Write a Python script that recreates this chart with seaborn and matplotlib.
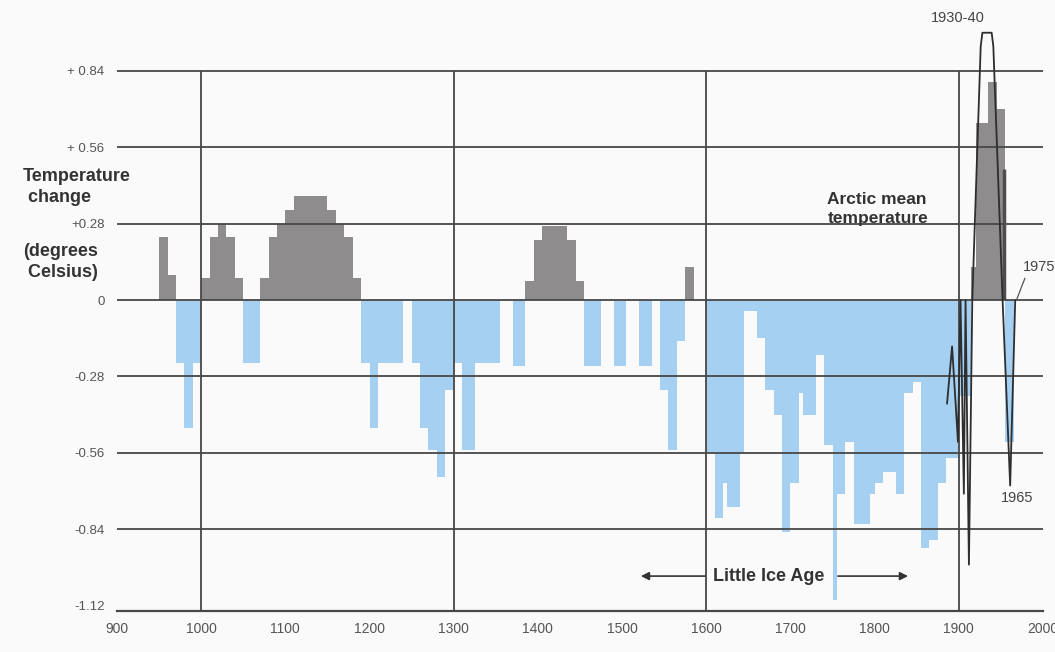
import numpy as np
import pandas as pd
import matplotlib
matplotlib.use("Agg")
import matplotlib.pyplot as plt
import seaborn as sns

# temperature change (deg C), one value per 5-year bin, bin start years below
t_0900s = [0.23, 0.23, 0.09, 0.09, -0.23, -0.23, -0.47, -0.47, -0.23, -0.23]  # 950-995
t_1000s = [0.08, 0.08, 0.23, 0.23, 0.28, 0.28, 0.23, 0.23, 0.08, 0.08,
           -0.23, -0.23, -0.23, -0.23, 0.08, 0.08, 0.23, 0.23, 0.28, 0.28]
t_1100s = [0.33, 0.33, 0.38, 0.38, 0.38, 0.38, 0.38, 0.38, 0.38, 0.38,
           0.33, 0.33, 0.28, 0.28, 0.23, 0.23, 0.08, 0.08, -0.23, -0.23]
t_1200s = [-0.47, -0.47, -0.23, -0.23, -0.23, -0.23, -0.23, -0.23, 0.0, 0.0,
           -0.23, -0.23, -0.47, -0.47, -0.55, -0.55, -0.65, -0.65, -0.33, -0.33]
t_1300s = [-0.23, -0.23, -0.55, -0.55, -0.55, -0.23, -0.23, -0.23, -0.23, -0.23,
           -0.23, 0.0, 0.0, 0.0, -0.24, -0.24, -0.24, 0.07, 0.07, 0.22]
t_1400s = [0.22, 0.27, 0.27, 0.27, 0.27, 0.27, 0.27, 0.22, 0.22, 0.07,
           0.07, -0.24, -0.24, -0.24, -0.24, 0.0, 0.0, 0.0, -0.24, -0.24]
t_1500s = [-0.24, 0.0, 0.0, 0.0, -0.24, -0.24, -0.24, 0.0, 0.0, -0.33,
           -0.33, -0.55, -0.55, -0.15, -0.15, 0.12, 0.12, 0.0, 0.0, 0.0]
t_1600s = [-0.56, -0.56, -0.80, -0.80, -0.67, -0.76, -0.76, -0.76, -0.56, -0.04,
           -0.04, -0.04, -0.14, -0.14, -0.33, -0.33, -0.42, -0.42, -0.85, -0.85]
t_1700s = [-0.67, -0.67, -0.34, -0.42, -0.42, -0.42, -0.20, -0.20, -0.53, -0.53,
           -1.10, -0.71, -0.71, -0.52, -0.52, -0.82, -0.82, -0.82, -0.82, -0.71]
t_1800s = [-0.67, -0.67, -0.63, -0.63, -0.63, -0.71, -0.71, -0.34, -0.34, -0.30,
           -0.30, -0.91, -0.91, -0.88, -0.88, -0.67, -0.67, -0.58, -0.58, -0.58]
t_1900s = [-0.35, -0.35, -0.35, 0.12, 0.65, 0.65, 0.65, 0.80, 0.80, 0.70,
           0.70, -0.52, -0.52, 0.0]  # 1900-1965

# Arctic mean temperature curve (hand drawn in the original)
curve_year = [1886, 1892, 1899, 1902, 1906, 1908, 1912, 1916, 1926, 1928, 1939, 1941, 1952, 1961, 1967]
curve_temp = [-0.38, -0.17, -0.52, 0.0, -0.71, 0.0, -0.97, 0.0, 0.93, 0.98, 0.98, 0.93, 0.0, -0.68, 0.0]
dark_year = [1954]
dark_temp = [0.48]

y_ticks = [0.84, 0.56, 0.28, 0, -0.28, -0.56, -0.84, -1.12]
y_labels = ['+ 0.84', '+ 0.56', '+0.28', '0', '-0.28', '-0.56', '-0.84', '-1.12']
x_ticks = list(range(900, 2001, 100))
v_lines = [1000, 1300, 1600, 1900]

temps = t_0900s + t_1000s + t_1100s + t_1200s + t_1300s + t_1400s + t_1500s + t_1600s + t_1700s + t_1800s + t_1900s
starts = np.arange(950, 950 + 5 * len(temps), 5)
df = pd.DataFrame({'year': starts + 2.5, 'temp': temps})
df['sign'] = np.where(df['temp'] > 0, 'warm', 'cold')

sns.set_style('white')
plt.rcParams['font.family'] = ['Liberation Sans', 'DejaVu Sans']

bg = '#fafafa'
line_c = '#474747'
fig = plt.figure(figsize=(10.55, 6.52), dpi=100, facecolor=bg)
ax = fig.add_axes([117 / 1055, 41 / 652, 926 / 1055, 611 / 652], facecolor=bg)

sns.barplot(data=df, x='year', y='temp', hue='sign', palette={'warm': '#8e8c8c', 'cold': '#a6d0f2'},
            native_scale=True, dodge=False, width=1.0, errorbar=None, linewidth=0,
            saturation=1, legend=False, ax=ax, zorder=2)

# grid lines drawn over the bars like in the original
ax.hlines([t for t in y_ticks if t > -1.0], 900, 2000, color=line_c, lw=1.3, zorder=3)
ax.vlines(v_lines, -1.14, 0.84, color=line_c, lw=1.3, zorder=3)

ax.vlines(dark_year, 0, dark_temp, color='#4d4d4d', lw=2.5, zorder=4)
sns.lineplot(x=curve_year, y=curve_temp, sort=False, estimator=None, color='#2e2e2e', lw=1.3, ax=ax, zorder=5)
ax.plot([1968.5, 1978.5], [0.0, 0.08], color='#555555', lw=0.9, zorder=5)

ax.set_xlim(900, 2000)
ax.set_ylim(-1.14, 1.10)
ax.set_xlabel('')
ax.set_ylabel('')
ax.set_xticks(x_ticks, [str(x) for x in x_ticks])
ax.set_yticks(y_ticks, y_labels)
ax.tick_params(axis='y', length=0, pad=9, labelsize=9.5, labelcolor='#555555')
ax.tick_params(axis='x', direction='in', length=5, width=1.2, color=line_c, pad=8,
               labelsize=10, labelcolor='#555555')
for s in ['top', 'right', 'left']:
    ax.spines[s].set_visible(False)
ax.spines['bottom'].set_color(line_c)
ax.spines['bottom'].set_linewidth(1.6)

# annotations
ax.text(1899, 1.035, '1930-40', ha='center', va='center', fontsize=10.5, color='#444444')
ax.text(1976, 0.12, '1975', ha='left', va='center', fontsize=10.5, color='#444444', clip_on=False)
ax.text(1969, -0.727, '1965', ha='center', va='center', fontsize=10.5, color='#444444')
ax.text(1744, 0.333, 'Arctic mean\ntemperature', ha='left', va='center', fontsize=12.5,
        fontweight='bold', color='#333333', linespacing=1.35)

ax.text(1674, -1.012, 'Little Ice Age', ha='center', va='center', fontsize=13,
        fontweight='bold', color='#333333', zorder=6)
arrow = dict(arrowstyle='-|>', color='#333333', lw=1.2, mutation_scale=12)
ax.annotate('', xy=(1519, -1.012), xytext=(1602, -1.012), arrowprops=arrow)
ax.annotate('', xy=(1843, -1.012), xytext=(1753, -1.012), arrowprops=arrow)

fig.text(23 / 1055, 1 - 187 / 652, 'Temperature\n change', ha='left', va='center', fontsize=13,
         fontweight='bold', color='#333333', linespacing=1.3)
fig.text(23 / 1055, 1 - 262 / 652, '(degrees\n Celsius)', ha='left', va='center', fontsize=13,
         fontweight='bold', color='#333333', linespacing=1.3)

fig.savefig('out.png', dpi=100, facecolor=bg)
